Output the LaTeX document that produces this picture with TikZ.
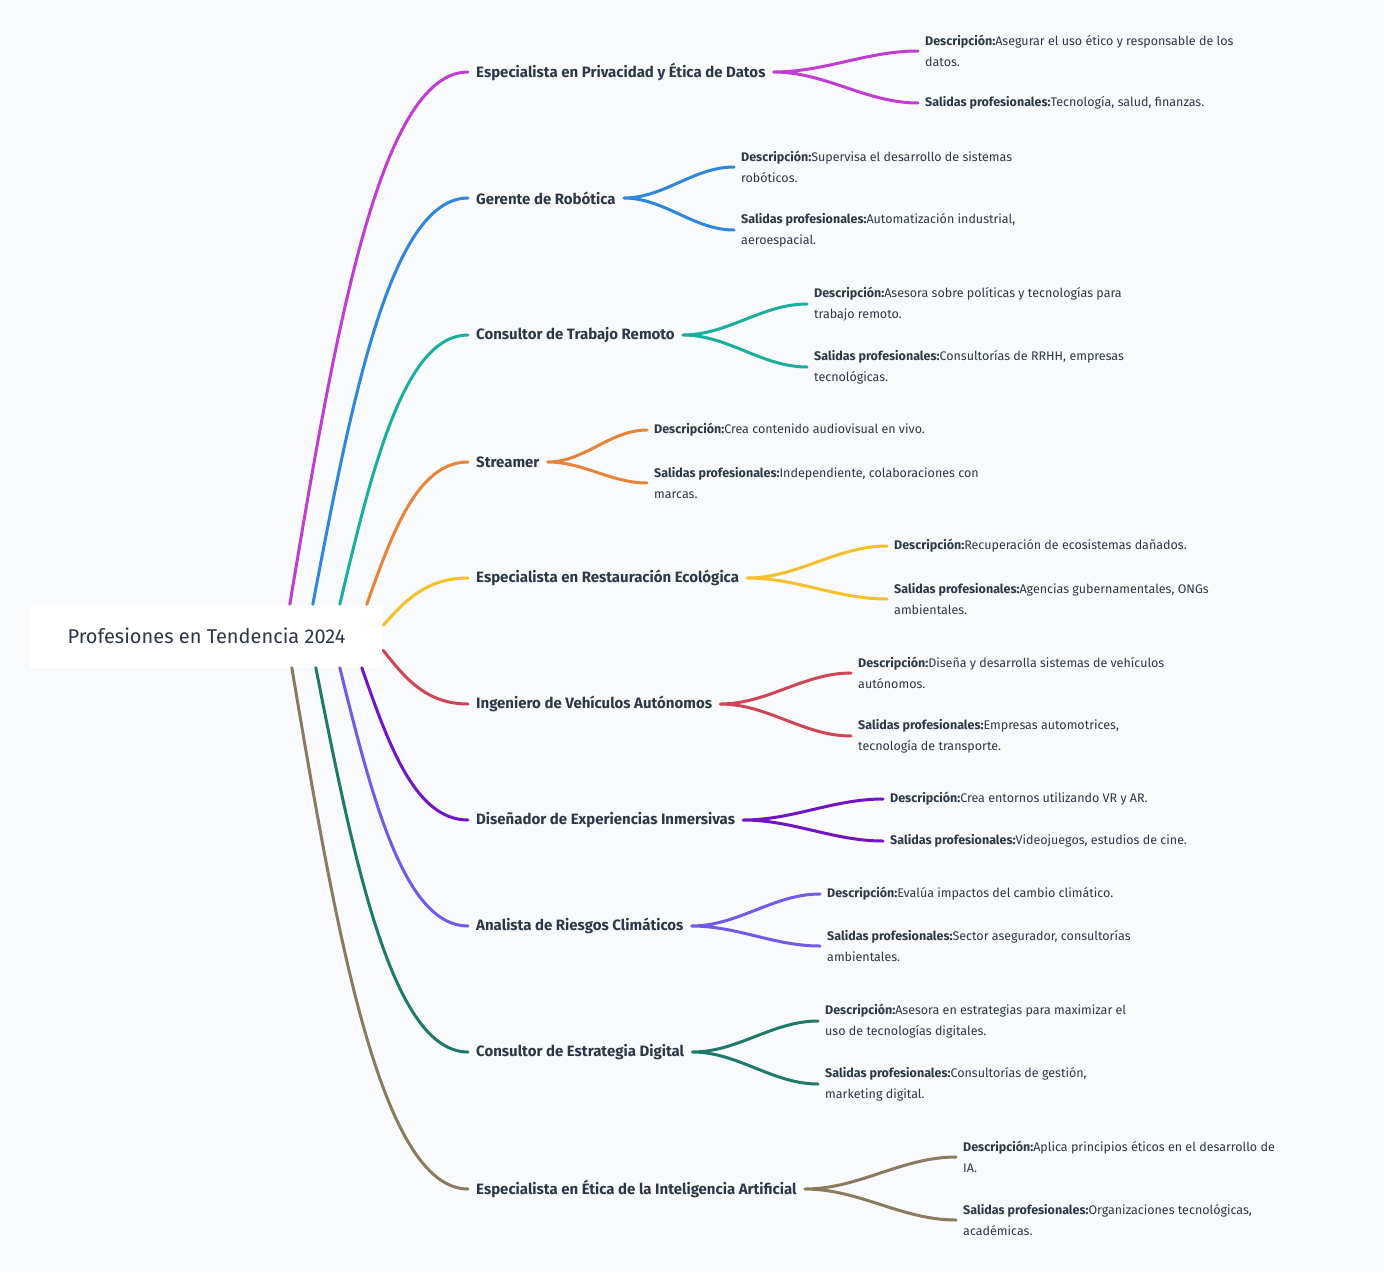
\documentclass[tikz,border=0pt]{standalone}
\usepackage{fontspec}
\setmainfont{Fira Sans}
\usetikzlibrary{calc}
\definecolor{bgpaper}{HTML}{F8FAFC}
\definecolor{ink}{HTML}{2D3748}
\definecolor{cMagenta}{HTML}{C03CD3}
\definecolor{cBlue}{HTML}{2E86DE}
\definecolor{cTeal}{HTML}{1AAE9F}
\definecolor{cOrange}{HTML}{E8833A}
\definecolor{cYellow}{HTML}{F5C02A}
\definecolor{cRed}{HTML}{D04556}
\definecolor{cPurple}{HTML}{7014C4}
\definecolor{cLilac}{HTML}{6C5CE7}
\definecolor{cGreen}{HTML}{1F7A6A}
\definecolor{cBrown}{HTML}{8B7B5E}
\tikzset{
  root/.style={fill=white, text=ink, font=\fontsize{20}{24}\selectfont, minimum width=353pt, minimum height=63pt, inner sep=0pt},
  branch/.style={anchor=west, text=ink, font=\bfseries\fontsize{15}{18}\selectfont, inner xsep=8pt, inner ysep=2pt},
  leaf/.style={anchor=west, text=ink, align=left, font=\fontsize{12.5}{21}\selectfont, inner xsep=7pt, inner ysep=2pt},
  link/.style={line width=3pt, draw=#1, line cap=round},
}
\newcommand{\rootlink}[3]{%
  \draw[link=#3] let \p1=(#1), \p2=(#2) in
    (\p1) .. controls ({\x1+0.25*(\x2-\x1)},{0.5*(\y1+\y2)}) and ({\x1+0.5*(\x2-\x1)},\y2) .. (\p2);}
\begin{document}
\begin{tikzpicture}[x=1pt, y=-1pt]
\useasboundingbox (0,0) rectangle (1384,1272);
\fill[bgpaper] (0,0) rectangle (1384,1272);
\node[root] (r) at (206.5,636) {Profesiones en Tendencia 2024};
% branches
\node[branch] (b1) at (468,72) {Especialista en Privacidad y Ética de Datos};
\node[branch] (b2) at (468,198) {Gerente de Robótica};
\node[branch] (b3) at (468,335) {Consultor de Trabajo Remoto};
\node[branch] (b4) at (468,462) {Streamer};
\node[branch] (b5) at (468,578) {Especialista en Restauración Ecológica};
\node[branch] (b6) at (468,704) {Ingeniero de Vehículos Autónomos};
\node[branch] (b7) at (468,820) {Diseñador de Experiencias Inmersivas};
\node[branch] (b8) at (468,926) {Analista de Riesgos Climáticos};
\node[branch] (b9) at (468,1052) {Consultor de Estrategia Digital};
\node[branch] (b10) at (468,1189) {Especialista en Ética de la Inteligencia Artificial};
% leaves
\node[leaf] (d1) at (918,51) {\textbf{Descripción:}Asegurar el uso ético y responsable de los\\datos.};
\node[leaf] (s1) at (918,103) {\textbf{Salidas profesionales:}Tecnología, salud, finanzas.};
\node[leaf] (d2) at (734,167) {\textbf{Descripción:}Supervisa el desarrollo de sistemas\\robóticos.};
\node[leaf] (s2) at (734,230) {\textbf{Salidas profesionales:}Automatización industrial,\\aeroespacial.};
\node[leaf] (d3) at (807,304) {\textbf{Descripción:}Asesora sobre políticas y tecnologías para\\trabajo remoto.};
\node[leaf] (s3) at (807,367) {\textbf{Salidas profesionales:}Consultorías de RRHH, empresas\\tecnológicas.};
\node[leaf] (d4) at (647,430) {\textbf{Descripción:}Crea contenido audiovisual en vivo.};
\node[leaf] (s4) at (647,483) {\textbf{Salidas profesionales:}Independiente, colaboraciones con\\marcas.};
\node[leaf] (d5) at (887,546) {\textbf{Descripción:}Recuperación de ecosistemas dañados.};
\node[leaf] (s5) at (887,599) {\textbf{Salidas profesionales:}Agencias gubernamentales, ONGs\\ambientales.};
\node[leaf] (d6) at (851,673) {\textbf{Descripción:}Diseña y desarrolla sistemas de vehículos\\autónomos.};
\node[leaf] (s6) at (851,736) {\textbf{Salidas profesionales:}Empresas automotrices,\\tecnología de transporte.};
\node[leaf] (d7) at (883,799) {\textbf{Descripción:}Crea entornos utilizando VR y AR.};
\node[leaf] (s7) at (883,841) {\textbf{Salidas profesionales:}Videojuegos, estudios de cine.};
\node[leaf] (d8) at (820,894) {\textbf{Descripción:}Evalúa impactos del cambio climático.};
\node[leaf] (s8) at (820,946) {\textbf{Salidas profesionales:}Sector asegurador, consultorías\\ambientales.};
\node[leaf] (d9) at (818,1021) {\textbf{Descripción:}Asesora en estrategias para maximizar el\\uso de tecnologías digitales.};
\node[leaf] (s9) at (818,1084) {\textbf{Salidas profesionales:}Consultorías de gestión,\\marketing digital.};
\node[leaf] (d10) at (956,1157) {\textbf{Descripción:}Aplica principios éticos en el desarrollo de\\IA.};
\node[leaf] (s10) at (956,1220) {\textbf{Salidas profesionales:}Organizaciones tecnológicas,\\académicas.};
% root links
\rootlink{$(r.north west)+(260,0)$}{b1.west}{cMagenta}
\rootlink{$(r.north west)+(283,0)$}{b2.west}{cBlue}
\rootlink{$(r.north west)+(310,0)$}{b3.west}{cTeal}
\rootlink{$(r.north west)+(337,0)$}{b4.west}{cOrange}
\rootlink{$(r.north east)+(0,21)$}{b5.west}{cYellow}
\rootlink{$(r.north east)+(0,46)$}{b6.west}{cRed}
\rootlink{$(r.south west)+(332,0)$}{b7.west}{cPurple}
\rootlink{$(r.south west)+(310,0)$}{b8.west}{cLilac}
\rootlink{$(r.south west)+(286,0)$}{b9.west}{cGreen}
\rootlink{$(r.south west)+(262,0)$}{b10.west}{cBrown}
% leaf links
\begin{scope}[every path/.style={out=0, in=180, looseness=0.9}]
\draw[link=cMagenta] (b1.east) to (d1.west) (b1.east) to (s1.west);
\draw[link=cBlue] (b2.east) to (d2.west) (b2.east) to (s2.west);
\draw[link=cTeal] (b3.east) to (d3.west) (b3.east) to (s3.west);
\draw[link=cOrange] (b4.east) to (d4.west) (b4.east) to (s4.west);
\draw[link=cYellow] (b5.east) to (d5.west) (b5.east) to (s5.west);
\draw[link=cRed] (b6.east) to (d6.west) (b6.east) to (s6.west);
\draw[link=cPurple] (b7.east) to (d7.west) (b7.east) to (s7.west);
\draw[link=cLilac] (b8.east) to (d8.west) (b8.east) to (s8.west);
\draw[link=cGreen] (b9.east) to (d9.west) (b9.east) to (s9.west);
\draw[link=cBrown] (b10.east) to (d10.west) (b10.east) to (s10.west);
\end{scope}
\end{tikzpicture}
\end{document}
